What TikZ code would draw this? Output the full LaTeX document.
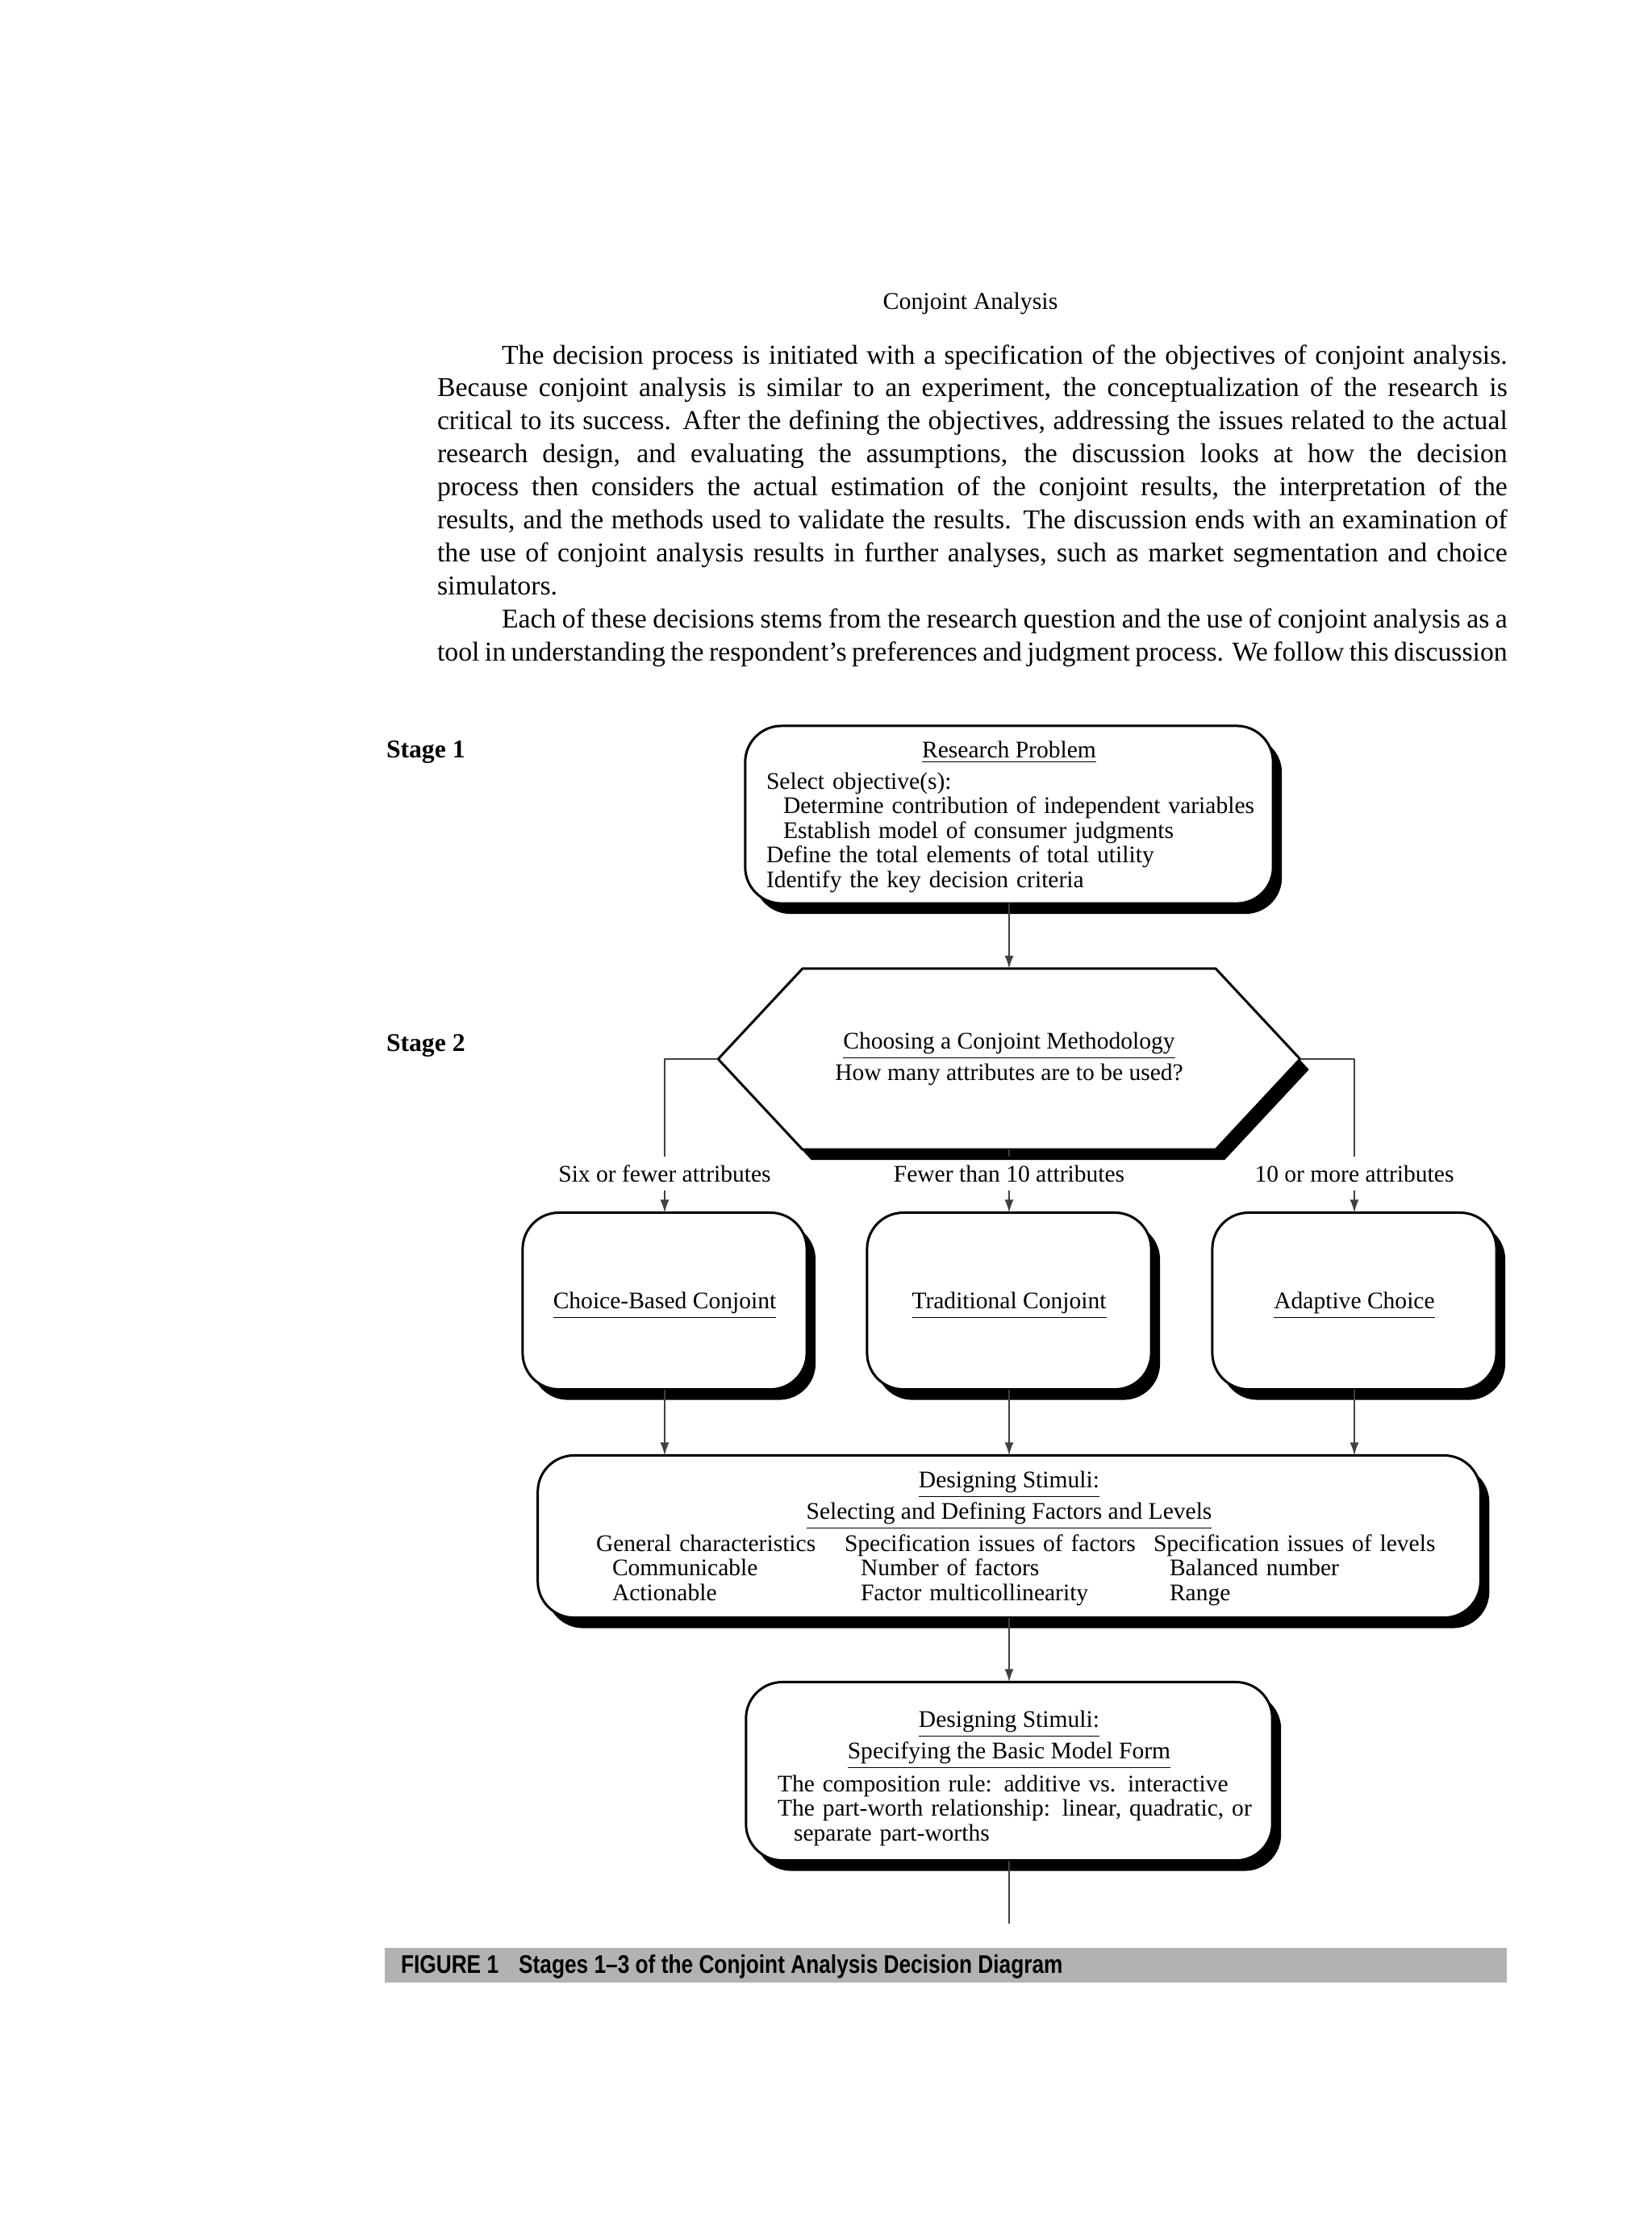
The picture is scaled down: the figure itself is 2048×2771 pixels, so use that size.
\documentclass[tikz,border=0pt]{standalone}
\usepackage{fontspec}
\setmainfont{Liberation Serif}
\newfontfamily\capfont[FakeStretch=0.83]{Liberation Sans}
\usetikzlibrary{shapes,arrows.meta,shadows,positioning}
\newcommand{\titleline}[1]{\underline{#1}}

\begin{document}
\begin{tikzpicture}[x=0.01cm, y=-0.01cm, line join=round]
  \tikzset{box/.style={draw, line width=0.85pt, fill=white, rounded corners=0.45cm,
      drop shadow={shadow xshift=0.11cm, shadow yshift=-0.13cm, opacity=1, fill=black}}}
  \tikzset{conn/.style={draw, line width=0.6pt, black!75}}
  \tikzset{arr/.style={conn, -{Latex[length=1.6mm, width=1.1mm]}}}
  \tikzset{txt/.style={font=\fontsize{8.4}{8.68}\selectfont}}
  \tikzset{lst/.style={txt, anchor=base west, align=left, text width=8cm}}
  \tikzset{lbl/.style={txt, anchor=base, inner ysep=3pt}}
  \tikzstyle{every node}=[inner sep=0pt, outer sep=0pt]

  \fill[white] (0,0) rectangle (2048,2771);
  \useasboundingbox (0,0) rectangle (2048,2771);

  % page text
  \node[anchor=base, font=\fontsize{8.5}{10}\selectfont] (head) at (1203,383) {Conjoint Analysis};
  \node[anchor=base west, text width=13.26cm, align=justify, font=\fontsize{9.6}{11.64}\selectfont] (para) at (542,451)
    {\hspace*{0.8cm}The decision process is initiated with a specification of the objectives of conjoint analysis.\linebreak
     Because conjoint analysis is similar to an experiment, the conceptualization of the research is\linebreak
     critical to its success. After the defining the objectives, addressing the issues related to the actual\linebreak
     research design, and evaluating the assumptions, the discussion looks at how the decision\linebreak
     process then considers the actual estimation of the conjoint results, the interpretation of the\linebreak
     results, and the methods used to validate the results. The discussion ends with an examination of\linebreak
     the use of conjoint analysis results in further analyses, such as market segmentation and choice\linebreak
     simulators.\par
     \hspace*{0.8cm}Each of these decisions stems from the research question and the use of conjoint analysis as a\linebreak
     tool in understanding the respondent’s preferences and judgment process. We follow this discussion\parfillskip=0pt\par};

  % stages
  \node[anchor=base west, font=\fontsize{9}{10}\bfseries] (st1) at (479,939) {Stage 1};
  \node[anchor=base west, font=\fontsize{9}{10}\bfseries] (st2) at (479,1303) {Stage 2};

  % boxes
  \node[box, minimum width=6.54cm, minimum height=2.2cm] (rp) at (1251,1010) {};
  \node[box, rounded corners=0pt, signal, signal to=west and east, signal pointer angle=94,
        minimum width=7.21cm, minimum height=2.24cm] (hex) at (1251,1313) {};
  \node[box, minimum width=3.52cm, minimum height=2.19cm] (cbc) at (824,1613) {};
  \node[box, minimum width=3.52cm, minimum height=2.19cm] (trad) at (1251,1613) {};
  \node[box, minimum width=3.52cm, minimum height=2.19cm] (adc) at (1679,1613) {};
  \node[box, minimum width=11.68cm, minimum height=2.01cm] (dsa) at (1251,1905) {};
  \node[box, minimum width=6.52cm, minimum height=2.21cm] (dsb) at (1251,2196) {};

  % research problem
  \node[txt, anchor=base] (rptitle) at (1251,939) {\titleline{Research Problem}};
  \node[lst] (rplist) at (950,978) {Select objective(s):\\
    \hspace*{0.21cm}Determine contribution of independent variables\\
    \hspace*{0.21cm}Establish model of consumer judgments\\
    Define the total elements of total utility\\
    Identify the key decision criteria};

  % methodology
  \node[txt, anchor=base] (hextitle) at (1251,1300) {\titleline{Choosing a Conjoint Methodology}};
  \node[txt, anchor=base] (hexq) at (1251,1339) {How many attributes are to be used?};

  \node[lbl] (six) at (824,1465) {Six or fewer attributes};
  \node[lbl] (fewer) at (1251,1465) {Fewer than 10 attributes};
  \node[lbl] (more) at (1679,1465) {10 or more attributes};

  \node[txt, anchor=base] (cbctxt) at (824,1622) {\titleline{Choice-Based Conjoint}};
  \node[txt, anchor=base] (tradtxt) at (1251,1622) {\titleline{Traditional Conjoint}};
  \node[txt, anchor=base] (adctxt) at (1679,1622) {\titleline{Adaptive Choice}};

  % stimuli: factors and levels
  \node[txt, anchor=base] (dsatitle) at (1251,1844) {\titleline{Designing Stimuli:}};
  \node[txt, anchor=base] (dsasub) at (1251,1883) {\titleline{Selecting and Defining Factors and Levels}};
  \node[lst] (gen) at (739,1923) {General characteristics\\
    \hspace*{0.2cm}Communicable\\
    \hspace*{0.2cm}Actionable};
  \node[lst] (fac) at (1047,1923) {Specification issues of factors\\
    \hspace*{0.2cm}Number of factors\\
    \hspace*{0.2cm}Factor multicollinearity};
  \node[lst] (lev) at (1430,1923) {Specification issues of levels\\
    \hspace*{0.2cm}Balanced number\\
    \hspace*{0.2cm}Range};

  % stimuli: model form
  \node[txt, anchor=base] (dsbtitle) at (1251,2141) {\titleline{Designing Stimuli:}};
  \node[txt, anchor=base] (dsbsub) at (1251,2180) {\titleline{Specifying the Basic Model Form}};
  \node[lst] (form) at (964,2221) {The composition rule: additive vs. interactive\\
    The part-worth relationship: linear, quadratic, or\\
    \hspace*{0.2cm}separate part-worths};

  \coordinate (tail) at (1251,2385);

  % connectors
  \draw[arr] (rp.south) -- (hex.north);
  \draw[conn] (hex.west) -| (six.north);
  \draw[arr] (six.south) -- (cbc.north);
  \draw[conn] (hex.south) -- (fewer.north);
  \draw[arr] (fewer.south) -- (trad.north);
  \draw[conn] (hex.east) -| (more.north);
  \draw[arr] (more.south) -- (adc.north);
  \draw[arr] (cbc.south) -- (cbc.south |- dsa.north);
  \draw[arr] (trad.south) -- (dsa.north);
  \draw[arr] (adc.south) -- (adc.south |- dsa.north);
  \draw[arr] (dsa.south) -- (dsb.north);
  \draw[conn] (dsb.south) -- (tail);

  % caption
  \node[fill=black!30, minimum width=13.91cm, minimum height=0.43cm] (capbar) at (1172.5,2436.5) {};
  \node[anchor=base west, font=\capfont\bfseries\fontsize{9}{10}\selectfont] (captxt) at (497,2446)
    {FIGURE~1\hspace{0.25cm}Stages 1–3 of the Conjoint Analysis Decision Diagram};
\end{tikzpicture}
\end{document}
